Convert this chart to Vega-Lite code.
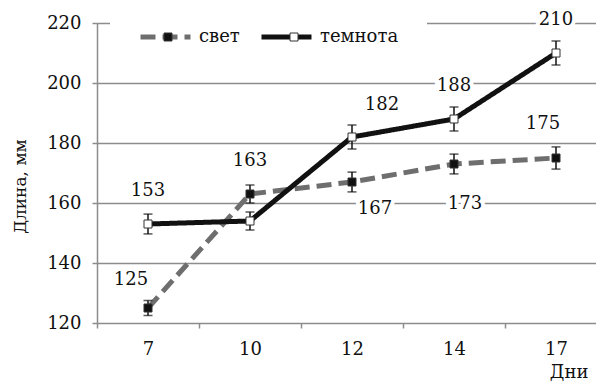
{
  "$schema": "https://vega.github.io/schema/vega-lite/v6.json",
  "width": 491,
  "height": 300,
  "autosize": "none",
  "padding": {"left": 97, "top": 23, "right": 8, "bottom": 58},
  "background": "white",
  "config": {
    "view": {"stroke": null},
    "font": "DejaVu Serif"
  },
  "data": {
    "values": [
      {"d": 7, "s": "свет", "v": 125, "e": 2.5},
      {"d": 10, "s": "свет", "v": 163, "e": 3},
      {"d": 12, "s": "свет", "v": 167, "e": 3.3},
      {"d": 14, "s": "свет", "v": 173, "e": 3.3},
      {"d": 17, "s": "свет", "v": 175, "e": 3.7},
      {"d": 7, "s": "темнота", "v": 153, "e": 3.3},
      {"d": 10, "s": "темнота", "v": 154, "e": 3},
      {"d": 12, "s": "темнота", "v": 182, "e": 4},
      {"d": 14, "s": "темнота", "v": 188, "e": 4},
      {"d": 17, "s": "темнота", "v": 210, "e": 4}
    ]
  },
  "encoding": {
    "x": {
      "field": "d", "type": "ordinal",
      "scale": {"type": "band", "range": [0, 510], "paddingInner": 0, "paddingOuter": 0},
      "axis": {
        "title": "Дни", "titleX": 491, "titleY": 49, "titleAlign": "right", "titleBaseline": "middle",
        "titleFontSize": 18, "titleFontWeight": "normal", "titleColor": "#111",
        "labelFontSize": 18, "labelColor": "#111", "labelAngle": 0, "labelPadding": 12,
        "tickBand": "extent", "tickSize": 5, "tickColor": "#8c8c8c", "tickWidth": 1.5,
        "domain": false, "grid": false
      }
    },
    "y": {
      "field": "v", "type": "quantitative",
      "scale": {"domain": [120, 220], "nice": false, "zero": false},
      "axis": {
        "title": "Длина, мм", "values": [120, 140, 160, 180, 200, 220],
        "grid": true, "gridColor": "#8c8c8c", "gridWidth": 1.5,
        "domainColor": "#8c8c8c", "domainWidth": 1.5,
        "tickColor": "#8c8c8c", "tickWidth": 1.5, "tickSize": 5,
        "labelFontSize": 18, "labelColor": "#111", "labelPadding": 11,
        "titleFontSize": 17, "titleFontWeight": "normal", "titleColor": "#111", "titlePadding": 17, "titleY": 163
      }
    }
  },
  "layer": [
    {
      "mark": {"type": "line", "strokeWidth": 5},
      "encoding": {
        "color": {
          "field": "s", "type": "nominal",
          "scale": {"domain": ["свет", "темнота"], "range": ["#6e6e6e", "#111111"]},
          "legend": {"title": null, "orient": "none", "legendX": 13, "legendY": -26, "direction": "horizontal",
            "symbolType": "stroke", "symbolSize": 2500, "symbolStrokeWidth": 5, "clipHeight": 24,
            "labelFontSize": 18, "labelColor": "#111", "labelOffset": 6, "columnPadding": 19,
            "padding": 28, "fillColor": "white", "zindex": 0}
        },
        "strokeDash": {
          "field": "s", "type": "nominal",
          "scale": {"domain": ["свет", "темнота"], "range": [[15, 7], [1, 0]]},
          "legend": {"title": null, "orient": "none", "legendX": 13, "legendY": -26, "direction": "horizontal",
            "symbolType": "stroke", "symbolSize": 2500, "symbolStrokeWidth": 5, "clipHeight": 24,
            "labelFontSize": 18, "labelColor": "#111", "labelOffset": 6, "columnPadding": 19,
            "padding": 28, "fillColor": "white", "zindex": 0}
        }
      }
    },
    {
      "mark": {"type": "errorbar", "color": "#111", "ticks": {"size": 9, "thickness": 1.5, "color": "#111"}, "rule": {"strokeWidth": 1.5, "color": "#111"}},
      "encoding": {"yError": {"field": "e"}}
    },
    {
      "mark": {"type": "point", "shape": "square", "size": 64, "filled": true, "stroke": "#333", "strokeWidth": 1, "opacity": 1},
      "encoding": {
        "fill": {
          "field": "s", "type": "nominal",
          "scale": {"range": ["#111111", "#ffffff"]},
          "legend": {"title": null, "orient": "none", "legendX": 34, "legendY": -26, "direction": "horizontal",
            "symbolType": "square", "symbolSize": 64, "symbolStrokeColor": "#333", "symbolStrokeWidth": 1, "clipHeight": 24,
            "labelFontSize": 18, "labelOffset": 27, "columnPadding": 40, "padding": 28, "labelOpacity": 0, "zindex": 1}
        }
      }
    },
    {
      "transform": [{"filter": "(datum.s=='свет'&&datum.d==10)||(datum.s=='темнота'&&(datum.d==7||datum.d==14||datum.d==17))"}],
      "encoding": {"text": {"field": "v", "type": "quantitative"}},
      "layer": [
        {"mark": {"type": "text", "dx": 0, "dy": -33, "fontSize": 18, "stroke": "white", "strokeWidth": 8, "color": "white"}},
        {"mark": {"type": "text", "dx": 0, "dy": -33, "fontSize": 18, "color": "#111"}}
      ]
    },
    {
      "transform": [{"filter": "datum.s=='свет'&&datum.d==7"}],
      "encoding": {"text": {"field": "v", "type": "quantitative"}},
      "layer": [
        {"mark": {"type": "text", "dx": -17, "dy": -28, "fontSize": 18, "stroke": "white", "strokeWidth": 8, "color": "white"}},
        {"mark": {"type": "text", "dx": -17, "dy": -28, "fontSize": 18, "color": "#111"}}
      ]
    },
    {
      "transform": [{"filter": "datum.s=='свет'&&datum.d==12"}],
      "encoding": {"text": {"field": "v", "type": "quantitative"}},
      "layer": [
        {"mark": {"type": "text", "dx": 23, "dy": 27, "fontSize": 18, "stroke": "white", "strokeWidth": 8, "color": "white"}},
        {"mark": {"type": "text", "dx": 23, "dy": 27, "fontSize": 18, "color": "#111"}}
      ]
    },
    {
      "transform": [{"filter": "datum.s=='свет'&&datum.d==14"}],
      "encoding": {"text": {"field": "v", "type": "quantitative"}},
      "layer": [
        {"mark": {"type": "text", "dx": 11, "dy": 40, "fontSize": 18, "stroke": "white", "strokeWidth": 8, "color": "white"}},
        {"mark": {"type": "text", "dx": 11, "dy": 40, "fontSize": 18, "color": "#111"}}
      ]
    },
    {
      "transform": [{"filter": "datum.s=='свет'&&datum.d==17"}],
      "encoding": {"text": {"field": "v", "type": "quantitative"}},
      "layer": [
        {"mark": {"type": "text", "dx": -13, "dy": -34, "fontSize": 18, "stroke": "white", "strokeWidth": 8, "color": "white"}},
        {"mark": {"type": "text", "dx": -13, "dy": -34, "fontSize": 18, "color": "#111"}}
      ]
    },
    {
      "transform": [{"filter": "datum.s=='темнота'&&datum.d==12"}],
      "encoding": {"text": {"field": "v", "type": "quantitative"}},
      "layer": [
        {"mark": {"type": "text", "dx": 30, "dy": -32, "fontSize": 18, "stroke": "white", "strokeWidth": 8, "color": "white"}},
        {"mark": {"type": "text", "dx": 30, "dy": -32, "fontSize": 18, "color": "#111"}}
      ]
    }
  ]
}
